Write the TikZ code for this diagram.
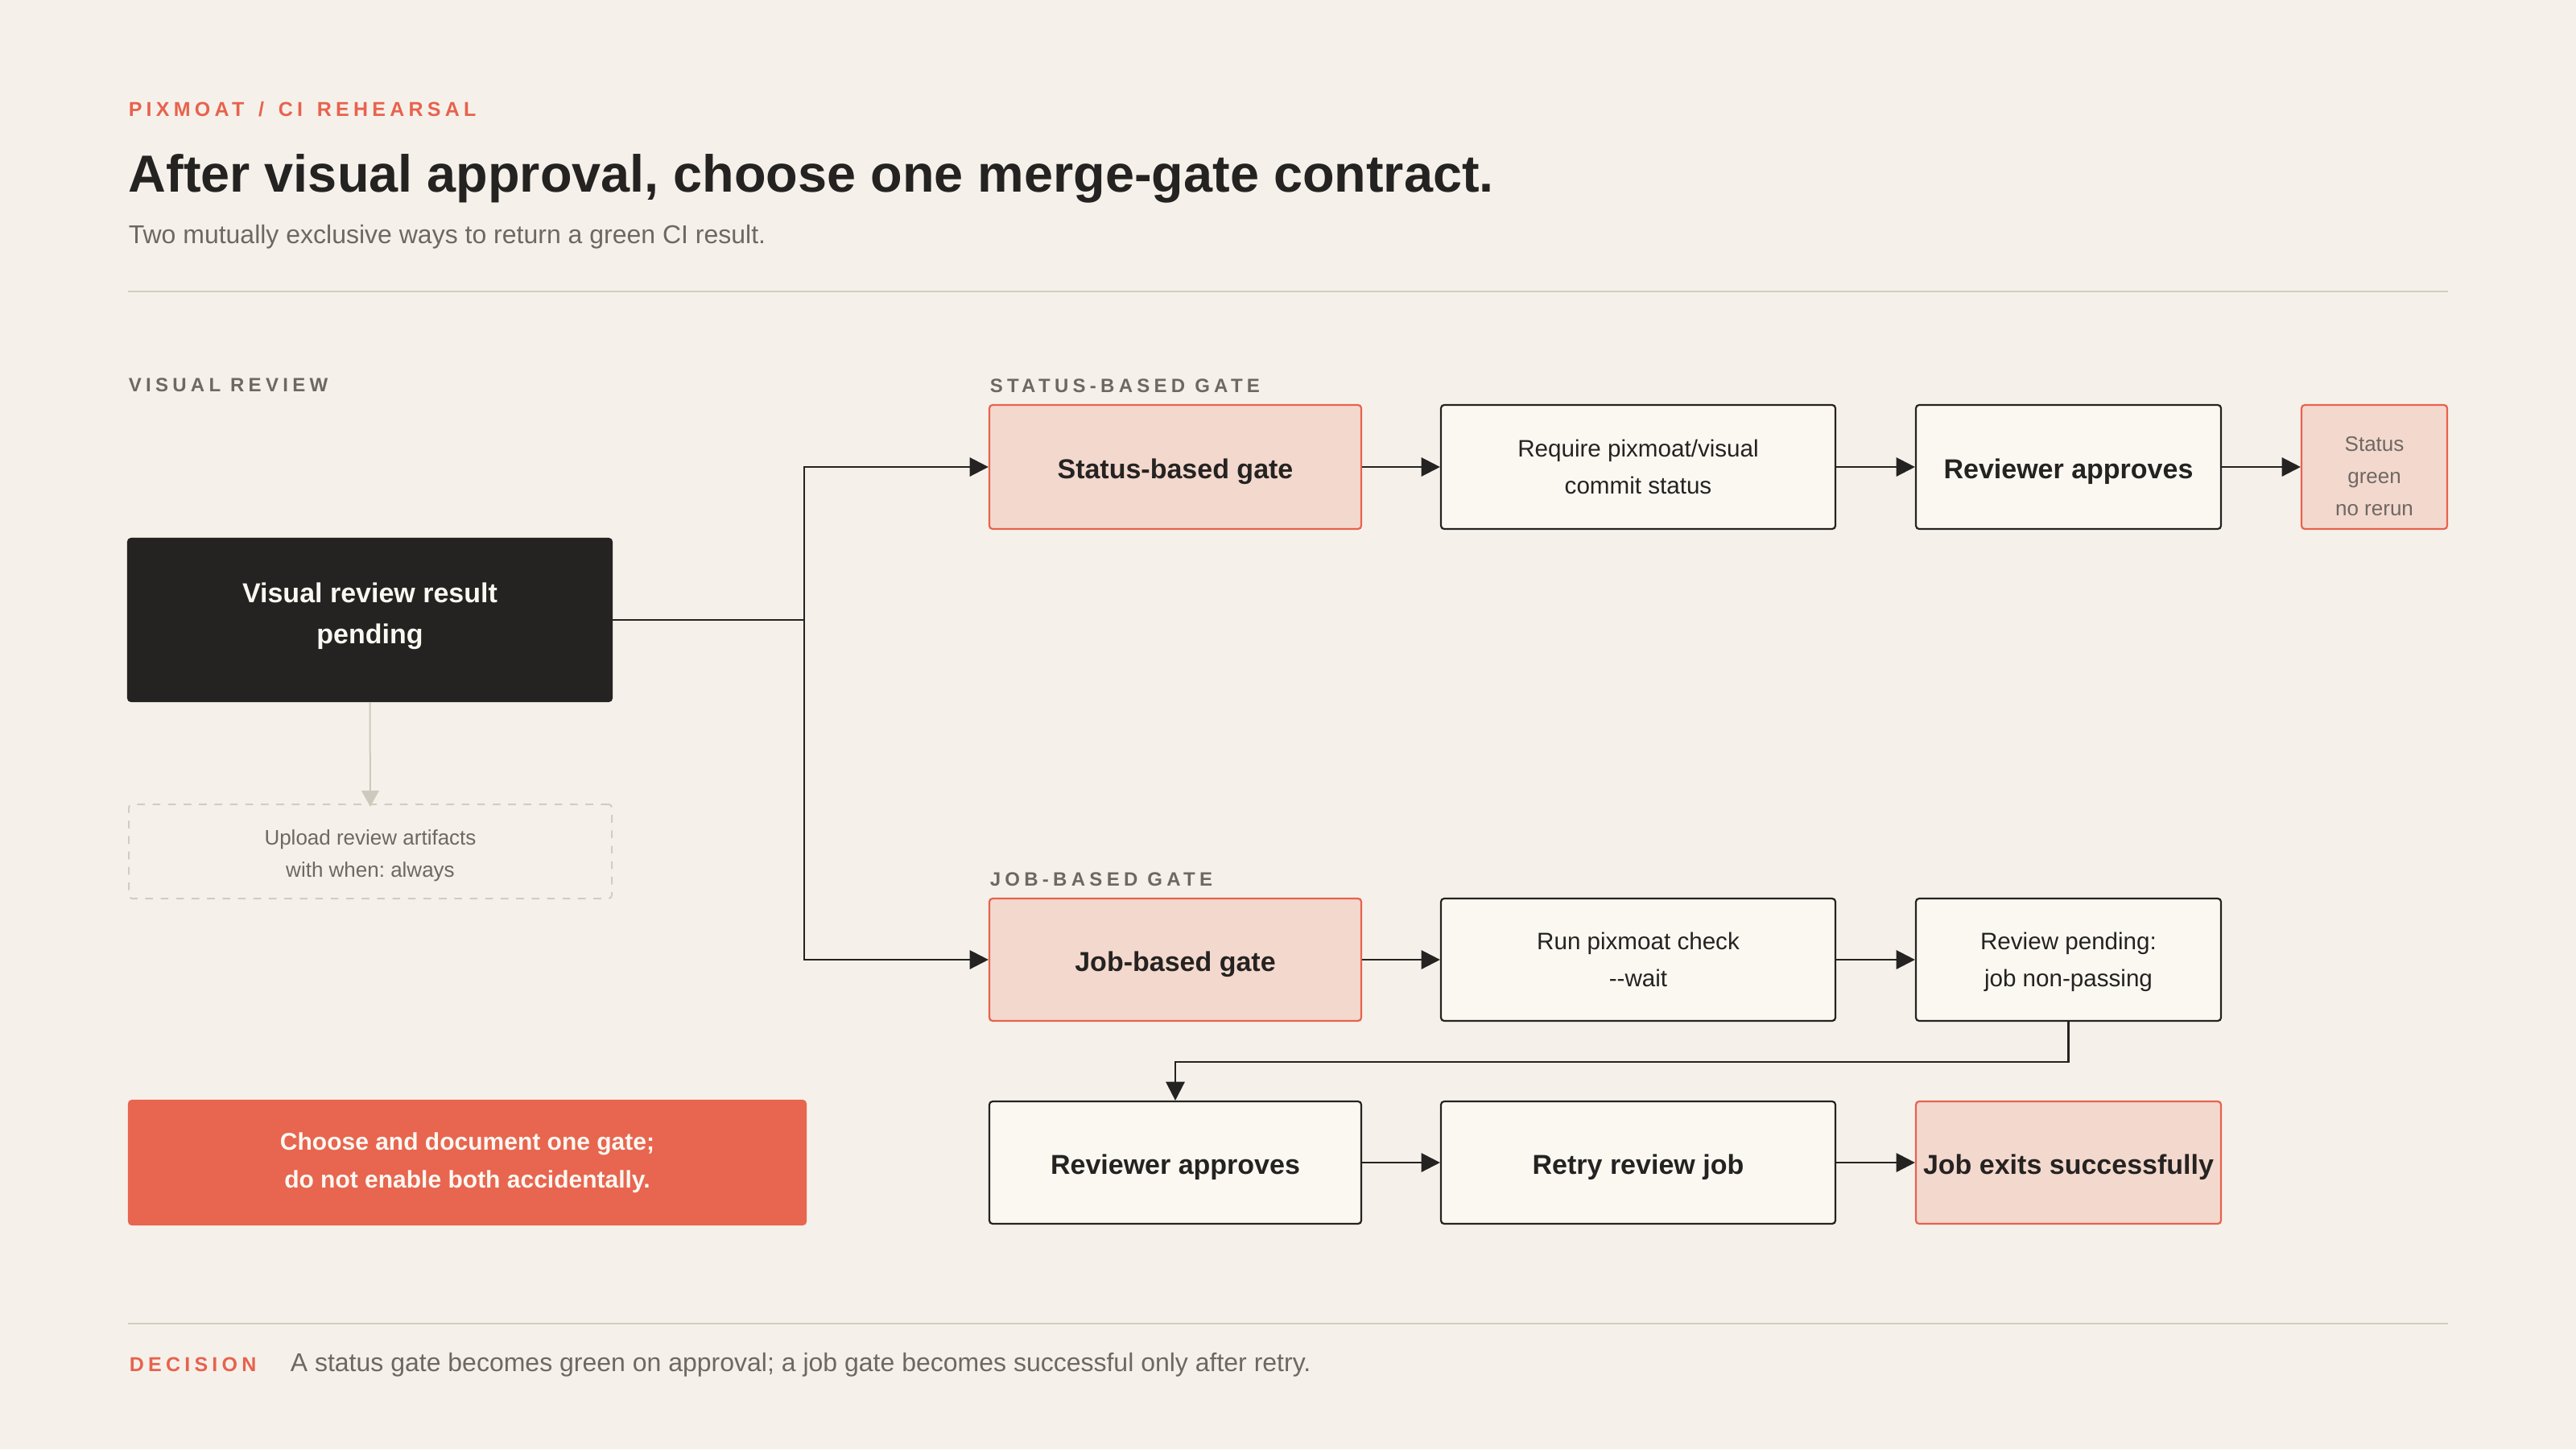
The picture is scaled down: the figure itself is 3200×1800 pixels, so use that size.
\documentclass[tikz,border=0pt]{standalone}
\usepackage{fontspec}
\setmainfont{Liberation Sans}
\newfontfamily\trackfont{Liberation Sans}[LetterSpace=22]
\newfontfamily\redtrackfont{Liberation Sans}[LetterSpace=21]
\usetikzlibrary{arrows.meta}
\frenchspacing
\definecolor{bg}{HTML}{F5F1EA}
\definecolor{ink}{HTML}{252321}
\definecolor{boxfill}{HTML}{FBF8F2}
\definecolor{pinkfill}{HTML}{F3D8CE}
\definecolor{accent}{HTML}{E8624E}
\definecolor{warnfill}{HTML}{E8654F}
\definecolor{muted}{HTML}{6E6862}
\definecolor{rulec}{HTML}{D4CCC0}
\definecolor{faint}{HTML}{CFC8BD}
\tikzset{
  box/.style={draw=ink, fill=boxfill, line width=0.55pt, rounded corners=1pt, inner sep=0pt},
  pinkbox/.style={box, draw=accent, fill=pinkfill},
  txt/.style={anchor=base, inner sep=0pt, align=center, text=ink},
  ttl/.style={txt, font=\bfseries\fontsize{8.5}{12.75}\selectfont},
  body/.style={txt, font=\fontsize{7.4}{11.5}\selectfont},
  small/.style={txt, font=\fontsize{6.5}{10}\selectfont, text=muted},
  conn/.style={draw=ink, line width=0.6pt, -{Triangle[length=5.8pt,width=5.8pt]}},
  plainconn/.style={draw=ink, line width=0.6pt},
  seclabel/.style={anchor=base west, inner sep=0pt, text=muted, font=\trackfont\bfseries\fontsize{6}{7}\selectfont},
  redlabel/.style={anchor=base west, inner sep=0pt, text=accent, font=\redtrackfont\bfseries\fontsize{6.25}{7}\selectfont},
  rulestyle/.style={draw=rulec, line width=0.5pt}
}
\begin{document}
\begin{tikzpicture}[x=0.25pt,y=-0.25pt]
\fill[bg] (0,0) rectangle (3200,1800);
\useasboundingbox (0,0) rectangle (3200,1800);

% header
\node[redlabel] (kicker) at (159,144) {PIXMOAT\ \kern1.4pt/\ \kern1.4pt CI\ \kern1.4pt REHEARSAL};
\node[anchor=base west, inner sep=0pt, text=ink, font=\bfseries\fontsize{16.2}{19}\selectfont] (title) at (159,238) {After visual approval, choose one merge-gate contract.};
\node[anchor=base west, inner sep=0pt, text=muted, font=\fontsize{8}{10}\selectfont] (subtitle) at (159,302) {Two mutually exclusive ways to return a green CI result.};
\coordinate (r1a) at (159,362); \coordinate (r1b) at (3041,362);
\draw[rulestyle] (r1a) -- (r1b);

% section labels
\node[seclabel] (lblvis) at (159,486) {VISUAL REVIEW};
\node[seclabel] (lblstat) at (1229,487) {STATUS-BASED GATE};
\node[seclabel] (lbljob) at (1229,1100) {JOB-BASED GATE};

% left column (multi-line text nodes: base = last line baseline)
\node[box, draw=ink, fill=ink, minimum width=150.25pt, minimum height=50.5pt] (vis) at (459.5,770) {};
\node[ttl, text=boxfill] (vist) at (459.5,799.3) {Visual review result\\pending};
\node[box, draw=rulec, fill=none, line width=0.5pt, dash pattern=on 2.4pt off 2.4pt, minimum width=150pt, minimum height=29.25pt] (upl) at (460,1057.5) {};
\node[small] (uplt) at (460,1089.5) {Upload review artifacts\\with when: always};
\draw[draw=faint, line width=0.5pt, -{Triangle[length=5pt,width=5.4pt]}] (vis.south) -- ([yshift=-1pt]upl.north);

\node[box, draw=warnfill, fill=warnfill, minimum width=210.25pt, minimum height=38.5pt] (warn) at (580.5,1444) {};
\node[txt, text=boxfill, font=\bfseries\fontsize{7.5}{11.85}\selectfont] (warnt) at (580.5,1475.7) {Choose and document one gate;\\do not enable both accidentally.};

% status row
\node[pinkbox, minimum width=115.5pt, minimum height=38.5pt] (sg) at (1460,580) {};
\node[ttl] (sgt) at (1460,594.3) {Status-based gate};
\node[box, minimum width=122.5pt, minimum height=38.5pt] (req) at (2035,580) {};
\node[body] (reqt) at (2035,613.8) {Require pixmoat/visual\\commit status};
\node[box, minimum width=94.75pt, minimum height=38.5pt] (rev1) at (2569.5,580) {};
\node[ttl] (rev1t) at (2569.5,594.3) {Reviewer approves};
\node[pinkbox, minimum width=45.25pt, minimum height=38.5pt] (stat) at (2949.5,580) {};
\node[small] (statt) at (2949.5,640) {Status\\green\\no rerun};

% job rows
\node[pinkbox, minimum width=115.5pt, minimum height=38pt] (jg) at (1460,1192) {};
\node[ttl] (jgt) at (1460,1206.3) {Job-based gate};
\node[box, minimum width=122.5pt, minimum height=38pt] (run) at (2035,1192) {};
\node[body] (runt) at (2035,1225.3) {Run pixmoat check\\{-}{-}wait};
\node[box, minimum width=94.75pt, minimum height=38pt] (rp) at (2569.5,1192) {};
\node[body] (rpt) at (2569.5,1225.3) {Review pending:\\job non-passing};
\node[box, minimum width=115.5pt, minimum height=38pt] (rev2) at (1460,1444) {};
\node[ttl] (rev2t) at (1460,1458.3) {Reviewer approves};
\node[box, minimum width=122.5pt, minimum height=38pt] (retry) at (2035,1444) {};
\node[ttl] (retryt) at (2035,1458.3) {Retry review job};
\node[pinkbox, minimum width=94.75pt, minimum height=38pt] (exits) at (2569.5,1444) {};
\node[ttl] (exitst) at (2569.5,1458.3) {Job exits successfully};

% connectors
\coordinate (br) at (999,770);
\draw[plainconn] (vis.east) -- (br);
\draw[conn] (br) |- (sg.west);
\draw[conn] (br) |- (jg.west);
\draw[conn] (sg) -- (req);
\draw[conn] (req) -- (rev1);
\draw[conn] (rev1) -- (stat);
\draw[conn] (jg) -- (run);
\draw[conn] (run) -- (rp);
\coordinate (elb) at (1460,1319);
\draw[conn] (rp.south) |- (elb) -- (rev2.north);
\draw[conn] (rev2) -- (retry);
\draw[conn] (retry) -- (exits);

% footer
\coordinate (r2a) at (159,1644); \coordinate (r2b) at (3041,1644);
\draw[rulestyle] (r2a) -- (r2b);
\node[redlabel] (dec) at (160,1703) {DECISION};
\node[anchor=base west, inner sep=0pt, text=muted, font=\fontsize{8}{10}\selectfont] (dectext) at (360,1703) {A status gate becomes green on approval; a job gate becomes successful only after retry.};
\end{tikzpicture}
\end{document}
